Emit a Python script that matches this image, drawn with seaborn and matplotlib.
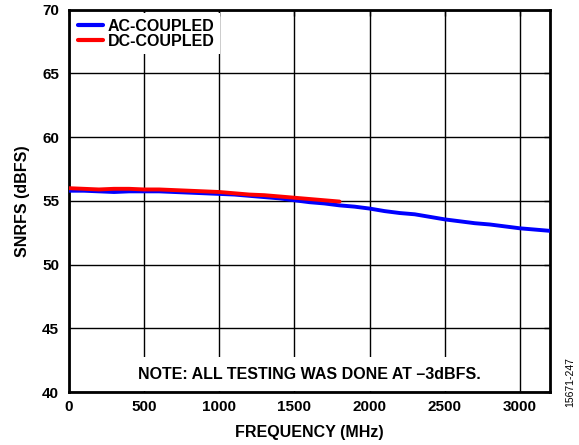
import numpy as np
import pandas as pd
import seaborn as sns
import matplotlib.pyplot as plt

# values
freq_ac = [0, 100, 200, 300, 400, 500, 600, 700, 800, 900, 1000, 1100, 1200, 1300, 1400, 1500,
           1600, 1700, 1800, 1900, 2000, 2100, 2200, 2300, 2400, 2500, 2600, 2700, 2800, 2900,
           3000, 3100, 3200]
snr_ac = [55.8, 55.8, 55.75, 55.7, 55.75, 55.75, 55.75, 55.7, 55.65, 55.6, 55.55, 55.5, 55.4,
          55.3, 55.2, 55.05, 54.9, 54.8, 54.65, 54.55, 54.4, 54.2, 54.05, 53.95, 53.75, 53.55,
          53.4, 53.25, 53.15, 53.0, 52.85, 52.75, 52.65]
freq_dc = [0, 100, 200, 300, 400, 500, 600, 700, 800, 900, 1000, 1100, 1200, 1300, 1400, 1500,
           1600, 1700, 1800]
snr_dc = [56.0, 55.95, 55.9, 55.95, 55.95, 55.9, 55.9, 55.85, 55.8, 55.75, 55.7, 55.6, 55.5,
          55.45, 55.35, 55.25, 55.15, 55.05, 54.95]
x_ticks = [0, 500, 1000, 1500, 2000, 2500, 3000]
y_ticks = [40, 45, 50, 55, 60, 65, 70]

df = pd.concat([
    pd.DataFrame({'freq': freq_ac, 'snr': snr_ac, 'mode': 'AC-COUPLED'}),
    pd.DataFrame({'freq': freq_dc, 'snr': snr_dc, 'mode': 'DC-COUPLED'}),
])

sns.set_style("white")
plt.rcParams['font.family'] = ['Liberation Sans', 'DejaVu Sans']
plt.rcParams['text.color'] = 'black'
plt.rcParams['axes.labelcolor'] = 'black'
plt.rcParams['xtick.color'] = 'black'
plt.rcParams['ytick.color'] = 'black'

fig = plt.figure(figsize=(5.79, 4.45), dpi=100)
ax = fig.add_axes([0.119, 0.119, 0.831, 0.859])

ax.set_xlim(0, 3200)
ax.set_ylim(40, 70)
ax.set_xticks(x_ticks)
ax.set_yticks(y_ticks)
ax.grid(True, color='black', linewidth=1.0)
ax.set_axisbelow(True)

sns.lineplot(data=df, x='freq', y='snr', hue='mode', palette=['#0000ff', '#ff0000'],
             linewidth=2.8, ax=ax, zorder=3)

for s in ax.spines.values():
    s.set_linewidth(2)
    s.set_color('black')
ax.tick_params(direction='in', length=4, width=1, labelsize=11, top=True, right=True)
ax.tick_params(axis='y', pad=7)
ax.tick_params(axis='x', pad=6)
for lbl in ax.get_xticklabels() + ax.get_yticklabels():
    lbl.set_fontweight('bold')

ax.set_xlabel('FREQUENCY (MHz)', fontsize=11.5, fontweight='bold', labelpad=8)
ax.set_ylabel('SNRFS (dBFS)', fontsize=11.5, fontweight='bold', labelpad=9)

leg = ax.legend(loc='upper left', frameon=True, fancybox=False, framealpha=1,
                edgecolor='white', handlelength=1.6, handletextpad=0.3,
                borderaxespad=0.2, borderpad=0.35, labelspacing=0.0,
                prop={'weight': 'bold', 'size': 11.5})
leg.get_frame().set_linewidth(0)
for h in leg.get_lines():
    h.set_linewidth(3)
leg.set_zorder(5)

ax.text(1600, 41.4, 'NOTE: ALL TESTING WAS DONE AT \u20133dBFS.', ha='center', va='center',
        fontsize=11.5, fontweight='bold', zorder=4,
        bbox=dict(facecolor='white', edgecolor='none', pad=7))

fig.text(0.985, 0.142, '15671-247', rotation=90, fontsize=7.5, ha='center', va='center')

fig.savefig('out.png', dpi=100)
